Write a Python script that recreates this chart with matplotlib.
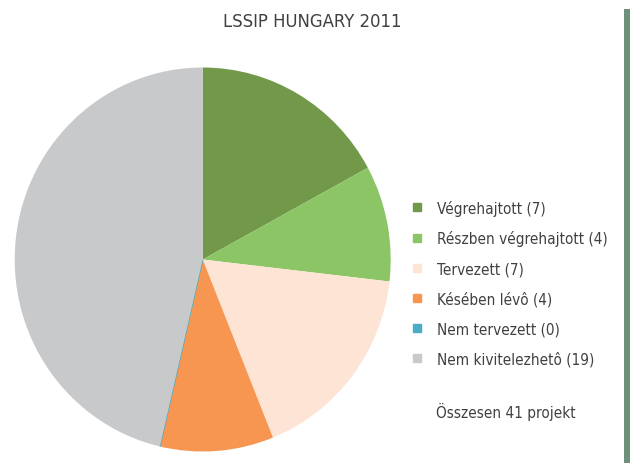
import matplotlib.pyplot as plt
from matplotlib.lines import Line2D
from matplotlib.patches import Rectangle

# adatok
labels = ['Végrehajtott', 'Részben végrehajtott', 'Tervezett', 'Késében lévô', 'Nem tervezett', 'Nem kivitelezhetô']
values = [7, 4, 7, 4, 0, 19]
colors = ['#72984a', '#8bc565', '#fde4d4', '#f79650', '#4bacc6', '#c8c9cb']
total_text = 'Összesen 41 projekt'

plt.rcParams['font.family'] = ['DejaVu Sans']
plt.rcParams['font.stretch'] = 'condensed'
txt_color = '#404040'

W, H = 635, 464
fig = plt.figure(figsize=(W / 100, H / 100), dpi=100)

# kördiagram (kissé elliptikus, mint az eredeti)
cx, cy, rx, ry = 202.7, 260.5, 188, 192
ax = fig.add_axes([(cx - rx) / W, (H - cy - ry) / H, 2 * rx / W, 2 * ry / H])
wedges, _ = ax.pie(values, colors=colors, startangle=90, counterclock=False,
                   wedgeprops=dict(linewidth=0))
wedges[4].set_edgecolor(colors[4])
wedges[4].set_linewidth(1)
ax.set_xlim(-1, 1)
ax.set_ylim(-1, 1)
ax.set_aspect('auto')

fig.text(312 / W, 1 - 22 / H, 'LSSIP HUNGARY 2011', ha='center', va='center',
         fontsize=13.2, color=txt_color)

# jelmagyarázat
handles = [Line2D([], [], marker='s', linestyle='', markersize=6,
                  markerfacecolor=c, markeredgecolor=c) for c in colors]
leg_labels = ['%s (%d)' % (l, v) for l, v in zip(labels, values)]
fig.legend(handles, leg_labels, loc='upper left', bbox_to_anchor=(403 / W, 1 - 193 / H),
           frameon=False, fontsize=11, labelcolor=txt_color, handlelength=0.8,
           handletextpad=0.9, labelspacing=0.97, borderpad=0)

fig.text(436 / W, 1 - 412 / H, total_text, ha='left', va='center',
         fontsize=11, color=txt_color)

# jobb oldali zöld sáv
fig.patches.append(Rectangle((624 / W, 0), 6 / W, 1 - 10 / H, transform=fig.transFigure,
                             facecolor='#6e8f7a', edgecolor='none'))

fig.savefig('out.png', dpi=100)
